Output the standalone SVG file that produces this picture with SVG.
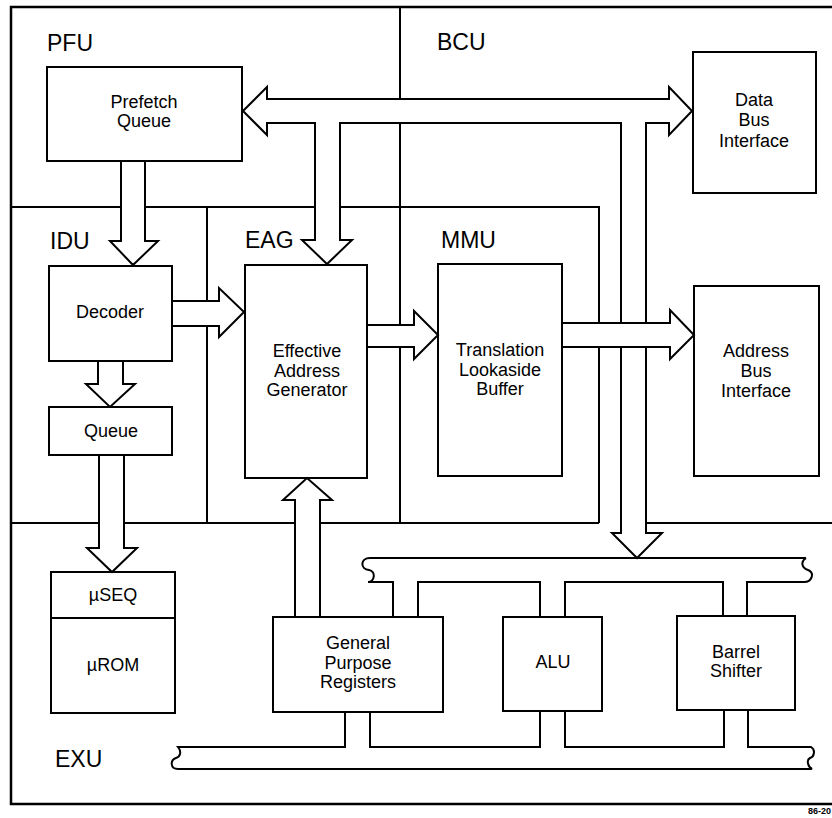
<svg xmlns="http://www.w3.org/2000/svg" width="832" height="818" viewBox="0 0 832 818">
<style>
.ln{fill:none;stroke:#000;stroke-width:2}
.ob{fill:none;stroke:#000;stroke-width:2.5}
.box{fill:#fff;stroke:#000;stroke-width:2}
.ar{fill:#fff;stroke:#000;stroke-width:2;stroke-linejoin:miter}
.lbl{font-family:"Liberation Sans",Arial,sans-serif;font-size:23px;fill:#000}
.t{font-family:"Liberation Sans",Arial,sans-serif;font-size:18px;fill:#000;text-anchor:middle}
.note{font-family:"Liberation Sans",Arial,sans-serif;font-size:9px;font-weight:bold;fill:#000}
</style>
<rect x="0" y="0" width="832" height="818" fill="#fff"/>
<g id="regions">
  <path class="ob" d="M840,7 H11 V804 H840"/>
  <path class="ln" d="M11,207 H599 V523 M11,523 H599 M621,523 H840 M400,7 V523 M207,207 V523"/>
  <text class="lbl" x="47" y="51">PFU</text>
  <text class="lbl" x="437" y="50">BCU</text>
  <text class="lbl" x="50" y="249">IDU</text>
  <text class="lbl" x="245" y="248">EAG</text>
  <text class="lbl" x="441" y="248">MMU</text>
  <text class="lbl" x="55" y="767">EXU</text>
</g>
<g id="prefetch-queue">
  <rect class="box" x="47" y="67" width="195" height="94"/>
  <text class="t" x="144" y="108">Prefetch</text>
  <text class="t" x="144" y="127">Queue</text>
</g>
<g id="data-bus-interface">
  <rect class="box" x="693" y="52" width="123" height="141"/>
  <text class="t" x="754" y="106">Data</text>
  <text class="t" x="754" y="126">Bus</text>
  <text class="t" x="754" y="147">Interface</text>
</g>
<g id="decoder">
  <rect class="box" x="49" y="266" width="123" height="95"/>
  <text class="t" x="110" y="318">Decoder</text>
</g>
<g id="queue">
  <rect class="box" x="49" y="407" width="123" height="48"/>
  <text class="t" x="111" y="437">Queue</text>
</g>
<g id="eag">
  <rect class="box" x="245" y="265" width="122" height="213"/>
  <text class="t" x="307" y="357">Effective</text>
  <text class="t" x="307" y="377">Address</text>
  <text class="t" x="307" y="396">Generator</text>
</g>
<g id="tlb">
  <rect class="box" x="438" y="264" width="124" height="212"/>
  <text class="t" x="500" y="356">Translation</text>
  <text class="t" x="500" y="376">Lookaside</text>
  <text class="t" x="500" y="395">Buffer</text>
</g>
<g id="address-bus-interface">
  <rect class="box" x="694" y="286" width="125" height="190"/>
  <text class="t" x="756" y="357">Address</text>
  <text class="t" x="756" y="377">Bus</text>
  <text class="t" x="756" y="397">Interface</text>
</g>
<g id="useq-urom">
  <rect class="box" x="51" y="572" width="124" height="141"/>
  <line class="ln" x1="51" y1="618" x2="175" y2="618"/>
  <text class="t" x="113" y="601">µSEQ</text>
  <text class="t" x="113" y="671">µROM</text>
</g>
<g id="gpr">
  <rect class="box" x="273" y="617" width="170" height="95"/>
  <text class="t" x="358" y="649">General</text>
  <text class="t" x="358" y="669">Purpose</text>
  <text class="t" x="358" y="688">Registers</text>
</g>
<g id="alu">
  <rect class="box" x="503" y="617" width="99" height="94"/>
  <text class="t" x="553" y="668">ALU</text>
</g>
<g id="barrel-shifter">
  <rect class="box" x="677" y="616" width="118" height="94"/>
  <text class="t" x="736" y="658">Barrel</text>
  <text class="t" x="736" y="677">Shifter</text>
</g>
<g id="connectors">
  <path class="ar" d="M243,111 L267,87 L267,99 L669,99 L669,87 L692,111 L669,135 L669,123 L646,123 L646,533 L662,533 L637,558 L612,533 L621,533 L621,123 L340,123 L340,240 L352,240 L327,264 L302,240 L315,240 L315,123 L267,123 L267,135 Z"/>
  <path class="ar" d="M121,161 L121,241 L110,241 L133,265 L158,241 L145,241 L145,161 Z"/>
  <path class="ar" d="M172,301 L219,301 L219,288 L244,312 L219,337 L219,326 L172,326 Z"/>
  <path class="ar" d="M367,325 L414,325 L414,311 L438,335 L414,359 L414,347 L367,347 Z"/>
  <path class="ar" d="M562,323 L670,323 L670,310 L694,335 L670,359 L670,347 L562,347 Z"/>
  <path class="ar" d="M98,361 L98,384 L86,384 L110,407 L135,384 L123,384 L123,361 Z"/>
  <path class="ar" d="M99,455 L99,548 L87,548 L112,572 L137,548 L124,548 L124,455 Z"/>
  <path class="ar" d="M295,617 L295,500 L283,500 L307,478 L332,500 L320,500 L320,617 Z"/>
  <g id="upper-bus">
    <path class="ln" d="M806,558 H370 C360,558 360,569 369,570 C376,571 375,582 368,582 H393 V617 M418,617 V582 H540 V617 M565,617 V582 H723 V616 M747,616 V582 H804 C812,582 815,573 808,570 C802,568 800,562 806,558"/>
  </g>
  <g id="lower-bus">
    <path class="ln" d="M345,712 V747 H178 C182,752 180,757 176,758 C170,760 170,769 178,769 H812 C808,767 806,760 810,758 C814,757 816,750 811,747 H748 V710 M724,710 V747 H565 V711 M540,711 V747 H370 V712"/>
  </g>
</g>
<text class="note" x="808" y="814">86-20</text>
</svg>
